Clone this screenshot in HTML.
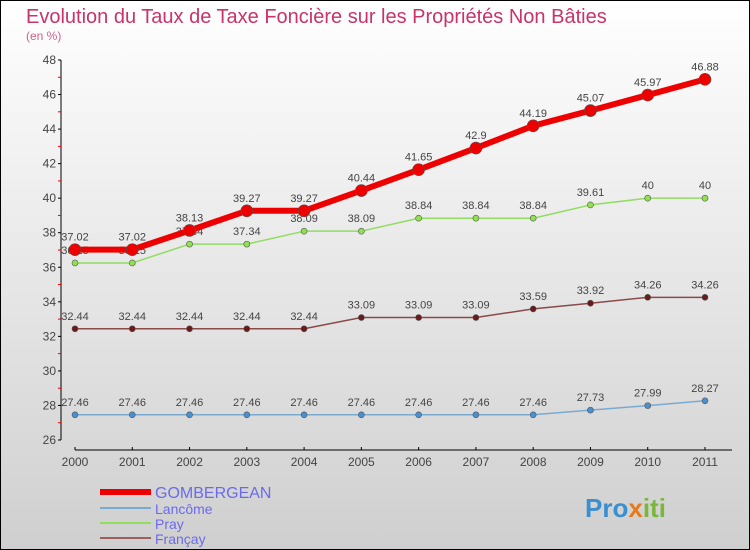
<!DOCTYPE html>
<html><head><meta charset="utf-8"><style>
body{margin:0;}
svg{display:block;font-family:"Liberation Sans",sans-serif;}
</style></head><body>
<svg id="chart" width="750" height="550">
<defs><linearGradient id="bg" x1="0" y1="0" x2="0" y2="1"><stop offset="0" stop-color="#ffffff"/><stop offset="1" stop-color="#cfcfcf"/></linearGradient></defs>
<rect x="0.5" y="0.5" width="749" height="549" fill="url(#bg)" stroke="#000"/>
<text x="26" y="23" font-size="20" fill="#c8336a">Evolution du Taux de Taxe Foncière sur les Propriétés Non Bâties</text>
<text x="26" y="40" font-size="12" fill="#d0608a">(en %)</text>
<g id="axes"></g><g id="series"></g><g id="legend"></g>
<text x="585" y="517" font-size="26" font-weight="bold" fill="#3a8fd0">Pro<tspan fill="#e87a1a">x</tspan><tspan fill="#7ab83a">iti</tspan></text>
</svg>
<script>
const years=["2000","2001","2002","2003","2004","2005","2006","2007","2008","2009","2010","2011"];
const yTicks=[26,28,30,32,34,36,38,40,42,44,46,48];
const gombergean=[37.02,37.02,38.13,39.27,39.27,40.44,41.65,42.9,44.19,45.07,45.97,46.88];
const lancome=[27.46,27.46,27.46,27.46,27.46,27.46,27.46,27.46,27.46,27.73,27.99,28.27];
const pray=[36.25,36.25,37.34,37.34,38.09,38.09,38.84,38.84,38.84,39.61,40,40];
const francay=[32.44,32.44,32.44,32.44,32.44,33.09,33.09,33.09,33.59,33.92,34.26,34.26];
const NS="http://www.w3.org/2000/svg";
const yMin=26,yMax=48,yTop=60,yBot=440,x0=75,x1=705;
const X=i=>x0+(x1-x0)*i/(years.length-1);
const Y=v=>yBot-(v-yMin)/(yMax-yMin)*(yBot-yTop);
function mk(t,a,p){const e=document.createElementNS(NS,t);for(const k in a)e.setAttribute(k,a[k]);p.appendChild(e);return e;}
const axes=document.getElementById('axes');
let l=mk('line',{x1:61,y1:yTop,x2:61,y2:yBot,stroke:'#000'},axes);


yTicks.forEach((v,i)=>{
  mk('line',{x1:58,y1:Y(v),x2:61,y2:Y(v),stroke:'#000'},axes);
  if(i<yTicks.length-1)mk('line',{x1:58,y1:Y(v+1),x2:61,y2:Y(v+1),stroke:'#e00'},axes);
  const t=mk('text',{x:56,y:Y(v)+4,'font-size':12,'text-anchor':'end',fill:'#444'},axes);
  t.textContent=v;
  
  
});
l=mk('line',{x1:75,y1:450,x2:732,y2:450,stroke:'#000'},axes);


years.forEach((y,i)=>{
  mk('line',{x1:X(i),y1:447,x2:X(i),y2:450,stroke:'#000'},axes);
  const t=mk('text',{x:X(i),y:466,'font-size':12,'text-anchor':'middle',fill:'#444'},axes);
  t.textContent=y;
  
  
});
const ser=document.getElementById('series');
function draw(name,vals,color,w,r,dot,fs){
  const g=mk('g',{},ser);
  
  
  const p=mk('polyline',{points:vals.map((v,i)=>X(i)+','+Y(v)).join(' '),fill:'none',stroke:color,'stroke-width':w,'stroke-linejoin':'round'},g);
  
  
  vals.forEach((v,i)=>{
    const c=mk('circle',{cx:X(i),cy:Y(v),r:r,fill:dot,stroke:'#555','stroke-width':0.6},g);
    
    
    const t=mk('text',{x:X(i),y:Y(v)-9,'font-size':fs,'text-anchor':'middle',fill:'#444'},g);
    t.textContent=v;
    
    
  });
}
draw('lancome',lancome,'#7aaad0',1.5,3,'#4a90d0',11);
draw('francay',francay,'#8a4a4a',1.5,3,'#6a1a1a',11);
draw('pray',pray,'#90dd60',1.5,3,'#90e050',11);
draw('gombergean',gombergean,'#ee0000',6,6,'#ee0000',11);
const lg=document.getElementById('legend');
[['GOMBERGEAN','#ee0000',6,16],['Lancôme','#7aaad0',2,14],['Pray','#90dd60',2,14],['Françay','#9a6060',2,14]].forEach((d,i)=>{
  const y=[492,508,523,538][i];
  const ln=mk('line',{x1:100,y1:y,x2:151,y2:y,stroke:d[1],'stroke-width':d[2]},lg);
  
  
  const t=mk('text',{x:155,y:y+6,'font-size':d[3],fill:'#6a6aee'},lg);
  t.textContent=d[0];
  
  
});
</script>
</body></html>
